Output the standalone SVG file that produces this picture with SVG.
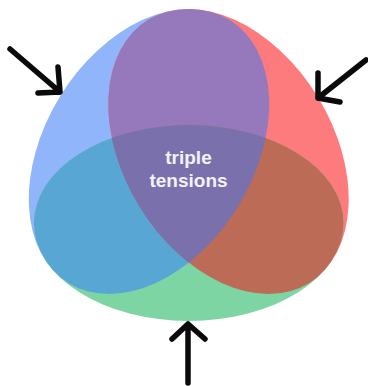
<svg xmlns="http://www.w3.org/2000/svg" width="368" height="386" viewBox="0 0 368 386">
  <style>
    .arrow { fill: none; stroke: #0a0a0a; stroke-width: 5.5; stroke-linecap: round; stroke-linejoin: round; }
    .label { font-family: "Liberation Sans", Arial, sans-serif; font-weight: bold; font-size: 19px; fill: #f4f2f8; text-anchor: middle; }
  </style>
  <defs>
    <!-- three congruent tilted ellipses: left set, right set, bottom set -->
    <ellipse id="shapeLeft" cx="0" cy="0" rx="154.3" ry="104.7" transform="translate(149 151.5) rotate(-58.6)"/>
    <ellipse id="shapeRight" cx="0" cy="0" rx="154.3" ry="104.7" transform="translate(228.5 151.5) rotate(58.6)"/>
    <ellipse id="shapeBottom" cx="188.75" cy="223" rx="154.8" ry="98"/>
    <clipPath id="clipLeft"><use href="#shapeLeft"/></clipPath>
    <clipPath id="clipRight"><use href="#shapeRight"/></clipPath>
  </defs>

  <!-- base sets -->
  <g id="set-left"><use href="#shapeLeft" fill="#91b5fa"/></g>
  <g id="set-right"><use href="#shapeRight" fill="#fd7b7c"/></g>
  <g id="set-bottom"><use href="#shapeBottom" fill="#7ed5a4"/></g>

  <!-- pairwise overlaps -->
  <g id="overlap-left-right"><use href="#shapeRight" fill="#9679bd" clip-path="url(#clipLeft)"/></g>
  <g id="overlap-left-bottom"><use href="#shapeBottom" fill="#58a6d3" clip-path="url(#clipLeft)"/></g>
  <g id="overlap-right-bottom"><use href="#shapeBottom" fill="#bc6b56" clip-path="url(#clipRight)"/></g>

  <!-- centre: all three sets -->
  <g id="overlap-all" clip-path="url(#clipRight)">
    <use href="#shapeBottom" fill="#7a70ac" clip-path="url(#clipLeft)"/>
  </g>

  <g id="label">
    <text class="label" x="188.5" y="163.5">triple</text>
    <text class="label" x="188.5" y="186.5">tensions</text>
  </g>

  <!-- pressure arrows -->
  <g id="arrows">
    <path class="arrow" d="M10 49 L60 92 M58 67 L60 92 L38 93"/>
    <path class="arrow" d="M366 60 L318 98 M318 73 L318 98 L340 102"/>
    <path class="arrow" d="M188 383 L188 324 M172 339 L188 324 L205 339"/>
  </g>
</svg>
